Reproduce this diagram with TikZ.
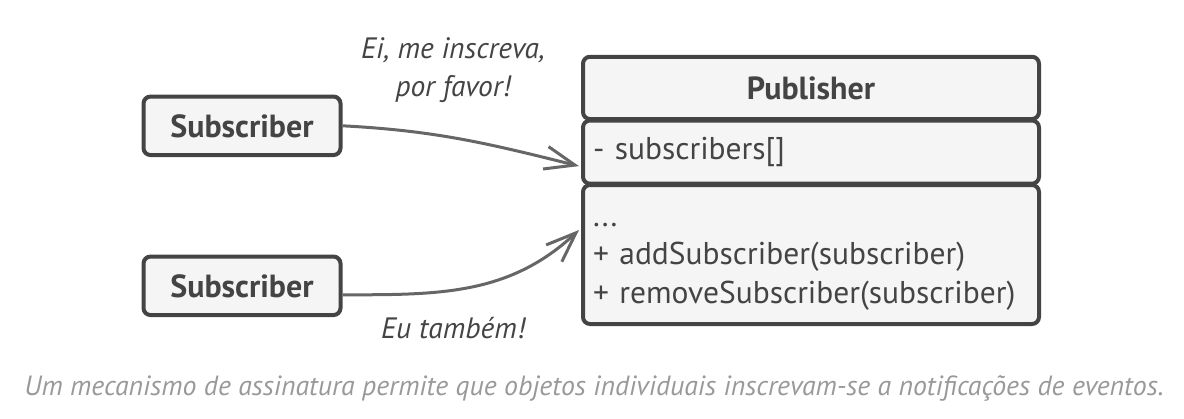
\documentclass[tikz,border=0pt]{standalone}
\usepackage{fontspec}
\setmainfont{PT Sans}
\usetikzlibrary{arrows.meta}
\definecolor{boxline}{HTML}{444444}
\definecolor{boxfill}{HTML}{F5F5F5}
\definecolor{linkgray}{HTML}{666666}
\definecolor{notegray}{HTML}{999999}

\begin{document}
\begin{tikzpicture}[x=1pt, y=-1pt, node distance=160pt,
    box/.style={draw=boxline, fill=boxfill, line width=4pt, rounded corners=7pt, inner sep=0pt},
    classpart/.style={box, minimum width=456pt, text width=436pt, align=left,
      font=\fontsize{31.5}{38.5}\selectfont, text=boxline},
    link/.style={draw=linkgray, line width=3pt, -{Straight Barb[length=30pt,width=23pt]}},
    saying/.style={font=\fontsize{29.5}{38}\selectfont\itshape, text=boxline, align=center}]
  \useasboundingbox (0,0) rectangle (1184,418);

  % subscribers
  \node (sub1) [box, minimum width=197pt, minimum height=58.5pt, font=\fontsize{32}{34}\selectfont\bfseries, text=boxline] at (242,125.8) {Subscriber};
  \node (sub2) [box, minimum width=197pt, minimum height=58.5pt, font=\fontsize{32}{34}\selectfont\bfseries, text=boxline, below of=sub1] {Subscriber};

  % publisher class
  \node (pubhead) [classpart, minimum height=62.3pt, align=center, font=\fontsize{32}{34}\selectfont\bfseries] at (811,87.9) {Publisher};
  \node (pubattr) [classpart, minimum height=63.2pt] at (811,152.1) {- subscribers[]};
  \node (pubops) [classpart, minimum height=139pt] at (811,254.5) {\strut...\\+ addSubscriber(subscriber)\\+ removeSubscriber(subscriber)};

  \draw[link] (sub1.east) to[out=-3, in=166] ([xshift=-2pt, yshift=-14pt]pubattr.west);
  \draw[link] ([yshift=-9pt]sub2.east) to[out=0, in=-137] ([xshift=-2pt, yshift=24.5pt]pubops.west);

  \node (ask) [saying] at (453,70) {Ei, me inscreva,\\por favor!};
  \node (also) [saying] at (453,328) {Eu também!};

  \node (caption) [font=\fontsize{27.8}{30}\selectfont\itshape, text=notegray] at (594,388) {Um mecanismo de assinatura permite que objetos individuais inscrevam-se a notificações de eventos.};
\end{tikzpicture}
\end{document}
